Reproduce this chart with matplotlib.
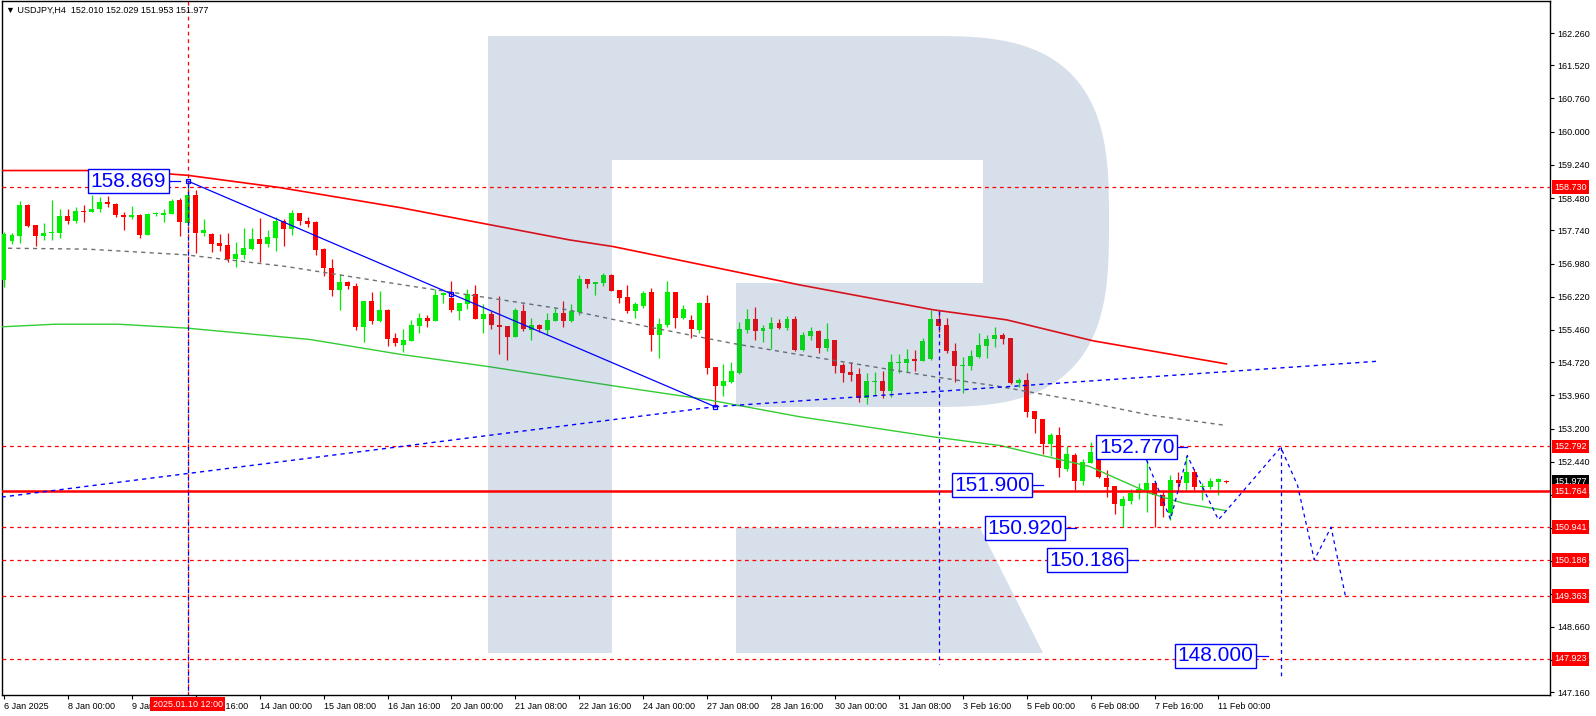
import numpy as np
import matplotlib.pyplot as plt
import matplotlib.transforms as mtransforms
from matplotlib import font_manager
from matplotlib.path import Path
from matplotlib.patches import PathPatch

# ---- USDJPY H4 candles, 6 Jan 16:00 .. 11 Feb 04:00 (bar index 0..153)
opens = [156.60, 157.50, 157.62, 158.32, 157.86, 157.60, 157.67, 157.69, 158.07, 157.95,
         158.18, 158.15, 158.22, 158.39, 158.34, 158.10, 158.05, 158.09, 157.63, 158.11,
         158.10, 158.11, 158.43, 157.90, 158.55, 157.67, 157.66, 157.45, 157.40, 157.08,
         157.18, 157.31, 157.54, 157.43, 157.57, 157.95, 157.78, 158.13, 157.95, 157.93,
         157.31, 156.87, 156.37, 156.56, 156.47, 155.53, 156.12, 155.66, 155.92, 155.27,
         155.11, 155.21, 155.56, 155.73, 155.66, 156.25, 156.19, 155.89, 156.06, 156.28,
         155.71, 155.82, 155.57, 155.55, 155.30, 155.90, 155.46, 155.57, 155.46, 155.66,
         155.85, 155.66, 155.87, 156.63, 156.50, 156.54, 156.72, 156.37, 156.21, 155.89,
         156.01, 156.33, 155.34, 155.57, 156.33, 155.73, 155.69, 155.46, 156.08, 154.61,
         154.18, 154.27, 154.47, 155.46, 155.71, 155.43, 155.48, 155.62, 155.50, 155.71,
         155.00, 155.32, 155.43, 155.05, 155.23, 154.66, 154.50, 154.45, 153.89, 154.27,
         154.29, 154.06, 154.70, 154.70, 154.79, 154.75, 154.79, 155.71, 155.57, 154.98,
         154.63, 154.63, 154.85, 155.10, 155.24, 155.34, 155.27, 154.25, 154.31, 153.60,
         153.42, 152.84, 153.05, 152.27, 152.60, 152.00, 152.41, 152.66, 152.06, 151.88,
         151.43, 151.55, 151.72, 151.80, 151.95, 151.68, 151.27, 152.02, 151.95, 152.20,
         151.85, 151.86, 151.98, 152.010]
highs = [157.70, 157.69, 158.41, 158.34, 157.86, 157.90, 158.44, 158.22, 158.24, 158.28,
         158.31, 158.55, 158.51, 158.53, 158.37, 158.16, 158.30, 158.11, 158.13, 158.16,
         158.24, 158.45, 158.47, 158.869, 158.66, 157.99, 157.68, 157.66, 157.67, 157.48,
         157.80, 157.80, 158.02, 157.75, 158.04, 157.99, 158.21, 158.14, 158.05, 157.95,
         157.33, 157.08, 156.74, 156.57, 156.53, 156.12, 156.33, 156.35, 155.93, 155.40,
         155.48, 155.69, 155.84, 155.79, 156.39, 156.32, 156.58, 156.08, 156.39, 156.49,
         156.05, 155.89, 156.24, 155.55, 155.95, 156.05, 155.73, 155.60, 155.84, 155.95,
         156.12, 156.05, 156.72, 156.63, 156.56, 156.76, 156.74, 156.37, 156.49, 156.11,
         156.35, 156.42, 155.73, 156.58, 156.33, 156.03, 155.80, 156.11, 156.26, 154.61,
         154.68, 154.72, 155.64, 155.94, 155.98, 155.57, 155.76, 155.71, 155.78, 155.78,
         155.41, 155.53, 155.46, 155.62, 155.23, 154.71, 154.72, 154.58, 154.47, 154.50,
         154.52, 154.91, 154.91, 155.02, 155.00, 155.27, 155.91, 155.90, 155.73, 155.15,
         154.85, 155.00, 155.40, 155.34, 155.52, 155.40, 155.27, 154.35, 154.48, 153.60,
         153.43, 153.09, 153.23, 152.79, 152.64, 152.50, 152.89, 152.67, 152.25, 151.88,
         151.66, 151.81, 151.95, 152.48, 151.95, 151.76, 152.14, 152.21, 152.56, 152.27,
         151.95, 152.06, 152.06, 152.029]
lows = [156.45, 157.43, 157.46, 157.82, 157.37, 157.52, 157.53, 157.57, 157.89, 157.90,
        157.92, 158.15, 158.15, 158.27, 158.05, 157.75, 158.01, 157.57, 157.63, 158.07,
        157.92, 158.11, 157.62, 157.85, 157.21, 157.61, 157.25, 157.27, 157.02, 156.91,
        157.08, 157.29, 157.02, 157.35, 157.27, 157.37, 157.63, 157.86, 157.82, 157.18,
        156.70, 156.24, 155.92, 156.39, 155.46, 155.19, 155.60, 155.63, 155.10, 155.10,
        154.96, 155.20, 155.40, 155.53, 155.66, 156.07, 155.86, 155.69, 155.94, 155.71,
        155.40, 155.48, 154.91, 154.76, 155.30, 155.44, 155.23, 155.42, 155.34, 155.66,
        155.53, 155.63, 155.80, 156.43, 156.26, 156.47, 156.34, 156.08, 155.85, 155.74,
        155.95, 154.98, 154.82, 155.52, 155.51, 155.72, 155.28, 155.40, 154.46, 153.70,
        153.95, 154.24, 154.45, 155.40, 155.22, 155.18, 155.02, 155.48, 155.46, 154.98,
        154.98, 155.23, 154.93, 154.98, 154.47, 154.27, 154.29, 153.81, 153.76, 153.97,
        153.91, 153.92, 154.47, 154.50, 154.52, 154.75, 154.77, 155.42, 154.94, 154.27,
        154.01, 154.54, 154.82, 154.82, 155.06, 155.14, 154.22, 154.16, 153.46, 153.09,
        152.62, 152.56, 152.10, 152.23, 151.79, 151.91, 152.40, 152.06, 151.64, 151.24,
        150.95, 151.47, 151.58, 151.30, 150.94, 151.18, 151.11, 151.76, 151.79, 151.80,
        151.57, 151.81, 151.68, 151.953]
closes = [157.66, 157.63, 158.32, 157.85, 157.60, 157.67, 157.70, 158.07, 157.95, 158.18,
          158.15, 158.22, 158.40, 158.34, 158.09, 158.05, 158.09, 157.63, 158.11, 158.12,
          158.14, 158.41, 157.92, 158.55, 157.67, 157.75, 157.43, 157.38, 157.08, 157.20,
          157.34, 157.54, 157.43, 157.59, 157.95, 157.78, 158.13, 157.95, 157.89, 157.29,
          156.87, 156.37, 156.56, 156.47, 155.53, 156.12, 155.66, 155.92, 155.25, 155.15,
          155.23, 155.57, 155.73, 155.66, 156.26, 156.30, 155.92, 156.08, 156.28, 155.71,
          155.82, 155.57, 155.53, 155.30, 155.92, 155.48, 155.57, 155.48, 155.69, 155.85,
          155.66, 155.89, 156.63, 156.52, 156.56, 156.72, 156.35, 156.20, 155.89, 156.05,
          156.31, 155.34, 155.59, 156.33, 155.73, 155.94, 155.47, 156.08, 154.59, 154.18,
          154.29, 154.52, 155.48, 155.71, 155.43, 155.50, 155.62, 155.50, 155.71, 155.00,
          155.34, 155.43, 155.05, 155.25, 154.63, 154.48, 154.43, 153.89, 154.29, 154.29,
          154.06, 154.72, 154.73, 154.79, 154.75, 155.21, 155.71, 155.56, 154.98, 154.64,
          154.65, 154.86, 155.11, 155.25, 155.34, 155.25, 154.25, 154.31, 153.59, 153.41,
          152.84, 153.05, 152.29, 152.62, 152.00, 152.44, 152.66, 152.08, 151.85, 151.47,
          151.59, 151.72, 151.82, 151.95, 151.68, 151.43, 152.02, 151.95, 152.20, 151.86,
          151.88, 152.00, 152.04, 151.977]

# moving averages (bar index, price)
ma_red_idx = [-0.3, 11.4, 20.8, 23, 34.5, 49.6, 70.8, 76.2, 99.6, 116.3, 125.5, 136.3, 153]
ma_red_val = [159.11, 159.11, 159.03, 159.00, 158.72, 158.26, 157.52, 157.37, 156.49, 155.92, 155.69, 155.21, 154.68]
ma_green_idx = [-0.3, 6.4, 14.3, 22.9, 38.3, 49.6, 60.6, 76.2, 88.4, 99.6, 116.3, 124.7, 128.8, 135.9, 139.7, 143.4, 147.6, 153]
ma_green_val = [155.53, 155.59, 155.59, 155.50, 155.24, 154.90, 154.62, 154.18, 153.85, 153.47, 153.01, 152.81, 152.63, 152.33, 152.02, 151.72, 151.49, 151.32]
ma_gray_idx = [0.5, 10.4, 22.7, 35.4, 49.6, 70.5, 80.9, 91.2, 99.6, 116.3, 124.7, 135, 143.4, 153]
ma_gray_val = [157.33, 157.31, 157.18, 156.91, 156.50, 155.92, 155.52, 155.15, 154.89, 154.39, 154.16, 153.82, 153.51, 153.27]

# hand drawn objects
trend_idx = [23, 89]
trend_val = [158.869, 153.70]
support_left_idx = [-0.3, 89]
support_left_val = [151.63, 153.70]
support_right_idx = [89, 171.8]
support_right_val = [153.70, 154.74]
forecast_idx = [143, 146, 148.1, 152, 159.8, 161.9, 164, 166.1, 167.9]
forecast_val = [152.48, 151.12, 152.58, 151.11, 152.77, 151.90, 150.19, 150.94, 149.36]

levels_dashed = [158.730, 152.792, 150.941, 150.186, 149.363, 147.923]
level_solid = 151.764
level_tags = ['158.730', '152.792', '151.764', '150.941', '150.186', '149.363', '147.923']
last_price = 151.977

price_labels = ['158.869', '152.770', '151.900', '150.920', '150.186', '148.000']
label_box_right = [20.7, 146.9, 128.8, 132.9, 140.7, 156.8]
label_line_end = [22.0, 148.1, 130.0, 134.2, 141.9, 158.2]

ytick_vals = [162.26, 161.52, 160.76, 160.00, 159.24, 158.48, 157.74, 156.98, 156.22, 155.46,
              154.72, 153.96, 153.20, 152.44, 151.68, 150.92, 150.16, 149.40, 148.66, 147.90, 147.16]
xtick_idx = list(range(0, 153, 8))
xtick_labels = ['6 Jan 2025', '8 Jan 00:00', '9 Jan 08:00', '10 Jan 16:00', '14 Jan 00:00',
                '15 Jan 08:00', '16 Jan 16:00', '20 Jan 00:00', '21 Jan 08:00', '22 Jan 16:00',
                '24 Jan 00:00', '27 Jan 08:00', '28 Jan 16:00', '30 Jan 00:00', '31 Jan 08:00',
                '3 Feb 16:00', '5 Feb 00:00', '6 Feb 08:00', '7 Feb 16:00', '11 Feb 00:00']

names = {f.name for f in font_manager.fontManager.ttflist}
small_font = ['Liberation Sans', 'DejaVu Sans']
big_font = 'Liberation Sans Narrow' if 'Liberation Sans Narrow' in names else 'Liberation Sans'

W, H = 1596, 716
fig = plt.figure(figsize=(W / 100, H / 100), dpi=100)
ax = fig.add_axes([2 / W, (H - 695) / H, 1548 / W, 694 / H])
ax.set_xlim(-0.25, 193.5)
ax.set_ylim(147.097, 162.993)

BLUE = '#0000ff'
RED = '#ff0000'

# candles
o = np.array(opens); h = np.array(highs); l = np.array(lows); c = np.array(closes)
idx = np.arange(len(o))
up = c >= o
col = np.where(up, '#00ee00', RED)
ax.vlines(idx, l, h, colors=col, lw=0.9, zorder=3)
body = np.maximum(np.abs(c - o), 0.025)
ax.bar(idx, body, bottom=np.minimum(o, c), width=0.62, color=col, lw=0, zorder=4)

# moving averages
ax.plot(ma_red_idx, ma_red_val, color='#ff0000', lw=1.2, zorder=5)
ax.plot(ma_green_idx, ma_green_val, color='#33cc33', lw=1.0, zorder=5)
ax.plot(ma_gray_idx, ma_gray_val, color='#707070', lw=1.0, ls=(0, (3, 3)), zorder=5)

# watermark "R" (pixel geometry of the logo)
def px(x, y):
    return (x / W, 1 - y / H)

curve = [(927 + 182 * np.sign(np.cos(a)) * abs(np.cos(a)) ** (2 / 3),
          221.5 - 185.5 * np.sign(np.sin(a)) * abs(np.sin(a)) ** (2 / 3))
         for a in np.linspace(np.pi / 2, -np.pi / 2, 80)]
stem_bowl = [(488, 36)] + curve + [(736, 407), (736, 283), (983, 283), (983, 160),
                                    (612, 160), (612, 653), (488, 653)]
leg = [(736, 528), (980, 528), (1043, 653), (736, 653)]
for shape in (stem_bowl, leg):
    verts = [px(x, y) for x, y in shape]
    patch = PathPatch(Path(verts + [verts[0]], closed=True), transform=fig.transFigure,
                      facecolor='#325f96', alpha=0.2, lw=0, zorder=6)
    ax.add_patch(patch)

# levels
for lv in levels_dashed:
    ax.axhline(lv, color=RED, lw=0.9, ls=(0, (3, 3)), zorder=7)
ax.axhline(level_solid, color=RED, lw=1.8, zorder=7)

# trend lines
ax.plot(trend_idx, trend_val, color=BLUE, lw=0.9, zorder=8)
ax.plot(support_left_idx, support_left_val, color=BLUE, lw=1.0, ls=(0, (3, 3)), zorder=8)
ax.plot(support_right_idx, support_right_val, color=BLUE, lw=1.0, ls=(0, (3, 3)), zorder=8)
ax.plot(forecast_idx, forecast_val, color=BLUE, lw=0.9, ls=(0, (3, 3)), zorder=8)
ax.plot([23, 56, 89], [158.869, 156.28, 153.70], ls='none', marker='s', ms=3.5,
        mfc='none', mec=BLUE, mew=0.9, zorder=9)

# vertical markers
ax.axvline(23, color=RED, lw=0.9, ls=(0, (3, 3)), zorder=7)
ybot = ax.get_ylim()[0]
ax.plot([23, 23], [158.80, ybot], color=BLUE, lw=0.9, ls=(0, (3, 3)), zorder=8)
ax.plot([117, 117], [155.90, 147.81], color=BLUE, lw=0.9, ls=(0, (3, 3)), zorder=8)
ax.plot([159.8, 159.8], [152.77, 147.49], color=BLUE, lw=0.9, ls=(0, (3, 3)), zorder=8)

# price labels
for txt, br, le in zip(price_labels, label_box_right, label_line_end):
    val = float(txt)
    ax.plot([br, le], [val, val], color=BLUE, lw=0.9, zorder=9)
    ax.text(br - 0.4, val, txt, ha='right', va='center', fontsize=15, family=big_font,
            color=BLUE, zorder=11,
            bbox=dict(boxstyle='square,pad=0.12', fc='white', ec=BLUE, lw=1.0))

# axes styling
for s in ax.spines.values():
    s.set_color('black')
    s.set_linewidth(1.0)
ax.yaxis.tick_right()
ax.set_yticks(ytick_vals)
ax.set_yticklabels(['%.3f' % v for v in ytick_vals])
ax.set_xticks(xtick_idx)
ax.set_xticklabels(xtick_labels)
ax.tick_params(axis='both', length=3, width=0.8, labelsize=6.5, pad=2, colors='black')
for lab in ax.get_xticklabels():
    lab.set_ha('left')
    lab.set_family(small_font)
for lab in ax.get_yticklabels():
    lab.set_family(small_font)

# right side tags
btrans = mtransforms.blended_transform_factory(ax.transAxes, ax.transData)
for tg in level_tags:
    ax.text(1.0 + 4 / 1548, float(tg), tg, transform=btrans, ha='left', va='center',
            fontsize=6.5, family=small_font, color='white', clip_on=False, zorder=20,
            bbox=dict(boxstyle='square,pad=0.25', fc=RED, ec='none'))
ax.text(1.0 + 4 / 1548, last_price, '%.3f' % last_price, transform=btrans, ha='left',
        va='center', fontsize=6.5, family=small_font, color='white', clip_on=False,
        zorder=19, bbox=dict(boxstyle='square,pad=0.25', fc='black', ec='none'))

# crosshair time tag
xtrans = mtransforms.blended_transform_factory(ax.transData, ax.transAxes)
ax.text(23, -0.013, '2025.01.10 12:00', transform=xtrans, ha='center', va='center',
        fontsize=6.5, family=small_font, color='white', clip_on=False, zorder=20,
        bbox=dict(boxstyle='square,pad=0.3', fc=RED, ec='none'))

fig.text(6 / W, 1 - 10 / H, '\u25bc USDJPY,H4  152.010 152.029 151.953 151.977',
         fontsize=6.5, family=small_font, va='center', ha='left')

fig.savefig('out.png', dpi=100)
